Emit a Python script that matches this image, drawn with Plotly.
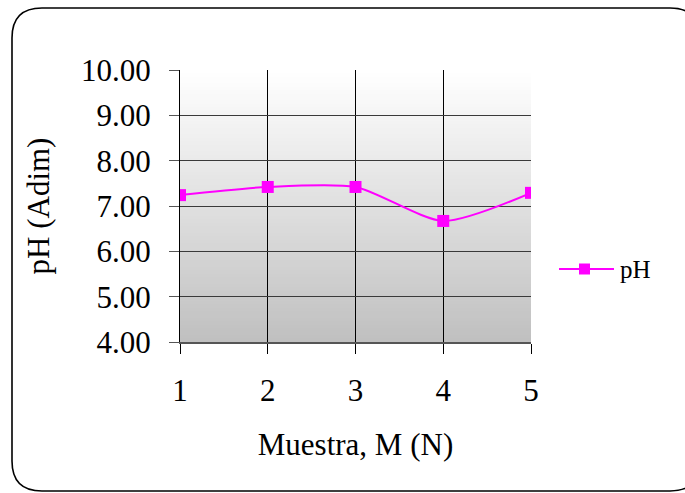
import plotly.graph_objects as go

# Sample numbers and measured pH
muestra = [1, 2, 3, 4, 5]
ph = [7.24, 7.42, 7.42, 6.67, 7.29]
y_ticks = [4, 5, 6, 7, 8, 9, 10]
x_ticks = [1, 2, 3, 4, 5]

W, H = 685, 493
ML, MR, MT, MB = 180, 154, 70, 151
PW, PH_ = W - ML - MR, H - MT - MB

FONT = "Liberation Serif, Times New Roman, serif"
MAGENTA = "#FF00FF"


def px(x):
    return (x - ML) / PW


def py(y):
    return (H - MB - y) / PH_


fig = go.Figure()

fig.add_trace(go.Scatter(
    x=muestra, y=ph, name="pH", mode="lines+markers",
    line=dict(color=MAGENTA, width=2, shape="spline", smoothing=0.7),
    marker=dict(symbol="square", size=12, color=MAGENTA),
    showlegend=False,
))

shapes = []

# vertical gradient behind the plot area: nested rectangles from the top
# colour (white) down to the bottom colour (grey), each one covering the
# lower part of the previous so no seams show between bands
n = 80
for i in range(n):
    t = i / (n - 1)
    v = int(round(255 - (255 - 192) * t))
    shapes.append(dict(
        type="rect", xref="x domain", yref="y domain",
        x0=0, x1=1, y0=0, y1=1 - i / n,
        fillcolor=f"rgb({v},{v},{v})", line=dict(width=0), layer="below",
    ))

# rounded outer frame of the chart
L, T, R, B, r = 12, 8, 700, 491, 30
path = (
    f"M {px(L)},{py(T + r)} "
    f"Q {px(L)},{py(T)} {px(L + r)},{py(T)} "
    f"L {px(R - r)},{py(T)} "
    f"Q {px(R)},{py(T)} {px(R)},{py(T + r)} "
    f"L {px(R)},{py(B - r)} "
    f"Q {px(R)},{py(B)} {px(R - r)},{py(B)} "
    f"L {px(L + r)},{py(B)} "
    f"Q {px(L)},{py(B)} {px(L)},{py(B - r)} Z"
)
shapes.append(dict(type="path", xref="paper", yref="paper", path=path,
                   line=dict(color="black", width=1.6), layer="above"))

# legend key: line with a square marker, followed by the series name
ly = 269
shapes.append(dict(type="line", xref="paper", yref="paper",
                   x0=px(559), x1=px(614), y0=py(ly), y1=py(ly),
                   line=dict(color=MAGENTA, width=2)))
shapes.append(dict(type="rect", xref="paper", yref="paper",
                   x0=px(579), x1=px(590), y0=py(ly + 5.5), y1=py(ly - 5.5),
                   fillcolor=MAGENTA, line=dict(width=0)))

fig.update_layout(
    width=W, height=H,
    margin=dict(l=ML, r=MR, t=MT, b=MB),
    paper_bgcolor="white",
    plot_bgcolor="white",
    font=dict(family=FONT, size=31, color="black"),
    shapes=shapes,
    showlegend=False,
    annotations=[dict(
        text="pH", xref="paper", yref="paper", x=px(618), y=py(ly),
        xanchor="left", yanchor="middle", showarrow=False,
        font=dict(family=FONT, size=25, color="black"),
    )],
)

fig.update_xaxes(
    range=[1, 5], tickvals=x_ticks, ticktext=[str(v) for v in x_ticks],
    showgrid=True, gridcolor="black", gridwidth=1,
    ticks="outside", ticklen=10, tickcolor="black", tickwidth=1,
    ticklabelstandoff=10,
    showline=True, linecolor="#555555", linewidth=2,
    zeroline=False,
    title=dict(text="Muestra, M (N)", standoff=26,
               font=dict(family=FONT, size=31)),
)
fig.update_yaxes(
    range=[4, 10], tickvals=y_ticks, ticktext=[f"{v:.2f}" for v in y_ticks],
    showgrid=True, gridcolor="#3a3a3a", gridwidth=1,
    ticks="outside", ticklen=10, tickcolor="#555555", tickwidth=1,
    ticklabelstandoff=12,
    showline=True, linecolor="black", linewidth=1,
    zeroline=False,
    title=dict(text="pH (Adim)", standoff=22,
               font=dict(family=FONT, size=31)),
)

fig.write_html("out.html")
